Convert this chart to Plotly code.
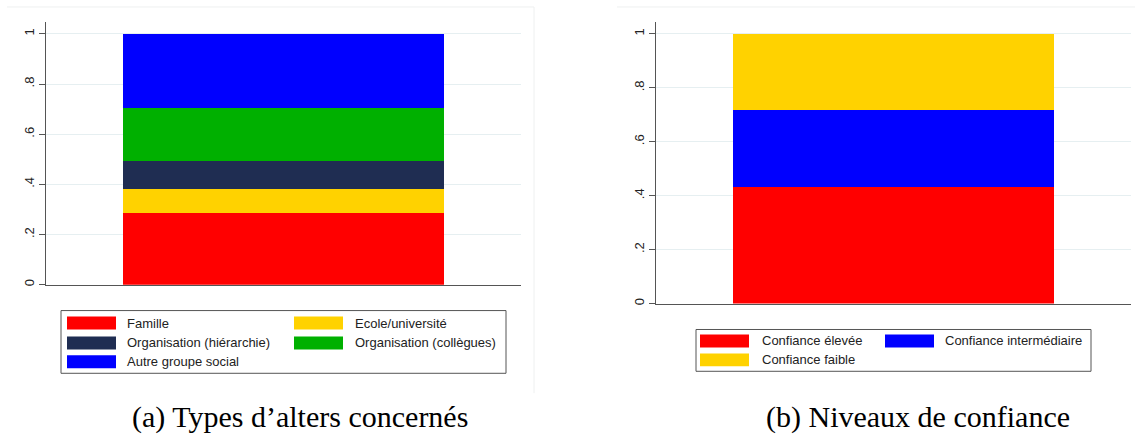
import plotly.graph_objects as go

# Data
bar_category = ["total"]

types_labels = [
    "Famille",
    "Ecole/université",
    "Organisation (hiérarchie)",
    "Organisation (collègues)",
    "Autre groupe social",
]
types_values = [0.286, 0.094, 0.115, 0.211, 0.294]
types_colors = ["#ff0000", "#ffd200", "#1f2d52", "#00b000", "#0000ff"]

conf_labels = ["Confiance élevée", "Confiance intermédiaire", "Confiance faible"]
conf_values = [0.434, 0.284, 0.282]
conf_colors = ["#ff0000", "#0000ff", "#ffd200"]

tick_vals = [0, 0.2, 0.4, 0.6, 0.8, 1]
tick_text = ["0", ".2", ".4", ".6", ".8", "1"]

captions = ["(a) Types d’alters concernés", "(b) Niveaux de confiance"]

W, H = 1135, 437


def px(x):
    return x / W


def py(y):
    return 1 - y / H


fig = go.Figure()

for lab, val, col in zip(types_labels, types_values, types_colors):
    fig.add_trace(go.Bar(x=bar_category, y=[val], name=lab, marker=dict(color=col, line=dict(width=0)),
                         width=0.674, showlegend=False, xaxis="x", yaxis="y"))

for lab, val, col in zip(conf_labels, conf_values, conf_colors):
    fig.add_trace(go.Bar(x=bar_category, y=[val], name=lab, marker=dict(color=col, line=dict(width=0)),
                         width=0.674, showlegend=False, xaxis="x2", yaxis="y2"))

axis_font = dict(family="Liberation Sans, Arial", size=13, color="#222")
yaxis_common = dict(
    tickvals=tick_vals, ticktext=tick_text, tickangle=-90, ticks="outside", ticklen=6,
    tickcolor="#555", showline=True, linecolor="#555", linewidth=1,
    showgrid=True, gridcolor="#e6eff1", gridwidth=1, zeroline=False, tickfont=axis_font,
)
xaxis_common = dict(showticklabels=False, ticks="", showline=True, linecolor="#555", linewidth=1,
                    showgrid=False, zeroline=False, range=[-0.5, 0.5])

fig.update_layout(
    width=W, height=H,
    margin=dict(l=0, r=0, t=0, b=0),
    paper_bgcolor="white", plot_bgcolor="white",
    barmode="stack", bargap=0,
    xaxis=dict(domain=[px(46), px(521)], anchor="y", **xaxis_common),
    yaxis=dict(domain=[py(286), py(22)], anchor="x", range=[0, (286 - 22) / 252], **yaxis_common),
    xaxis2=dict(domain=[px(656), px(1131)], anchor="y2", **xaxis_common),
    yaxis2=dict(domain=[py(305), py(22)], anchor="x2", range=[0, (305 - 22) / 271], **yaxis_common),
)

shapes = []
annotations = []

# Faint panel frames
shapes.append(dict(type="line", xref="paper", yref="paper", x0=px(7), x1=px(534), y0=py(7), y1=py(7),
                   line=dict(color="#eef0f0", width=1)))
shapes.append(dict(type="line", xref="paper", yref="paper", x0=px(534), x1=px(534), y0=py(7), y1=py(395),
                   line=dict(color="#eef0f0", width=1)))
shapes.append(dict(type="line", xref="paper", yref="paper", x0=px(617), x1=px(1135), y0=py(7), y1=py(7),
                   line=dict(color="#eef0f0", width=1)))


def add_legend(labels, colors, box, swatch_x, text_x, row_y):
    x0, y0, x1, y1 = box
    shapes.append(dict(type="rect", xref="paper", yref="paper", x0=px(x0), x1=px(x1), y0=py(y0), y1=py(y1),
                       line=dict(color="#555", width=1), fillcolor="white"))
    for i, (lab, col) in enumerate(zip(labels, colors)):
        c, r = i % 2, i // 2
        top = row_y[r]
        shapes.append(dict(type="rect", xref="paper", yref="paper",
                           x0=px(swatch_x[c]), x1=px(swatch_x[c] + 49), y0=py(top), y1=py(top + 13),
                           line=dict(width=0), fillcolor=col))
        annotations.append(dict(xref="paper", yref="paper", x=px(text_x[c]), y=py(top + 6.5), text=lab,
                                showarrow=False, xanchor="left", yanchor="middle",
                                font=dict(family="Liberation Sans, Arial", size=13, color="#222")))


add_legend(types_labels, types_colors, (61, 312, 506, 375), (67, 294), (125, 353), (318, 338, 357))
add_legend(conf_labels, conf_colors, (696, 331, 1091, 373), (700, 885), (760, 943), (336, 355))

for cx, cap in zip((300, 918), captions):
    annotations.append(dict(xref="paper", yref="paper", x=px(cx), y=py(419), text=cap, showarrow=False,
                            xanchor="center", yanchor="middle",
                            font=dict(family="Liberation Serif, Times New Roman", size=30, color="black")))

fig.update_layout(shapes=shapes, annotations=annotations)

fig.write_html("out.html", config={"displayModeBar": False},
               post_script="document.body.style.margin='0px';")
